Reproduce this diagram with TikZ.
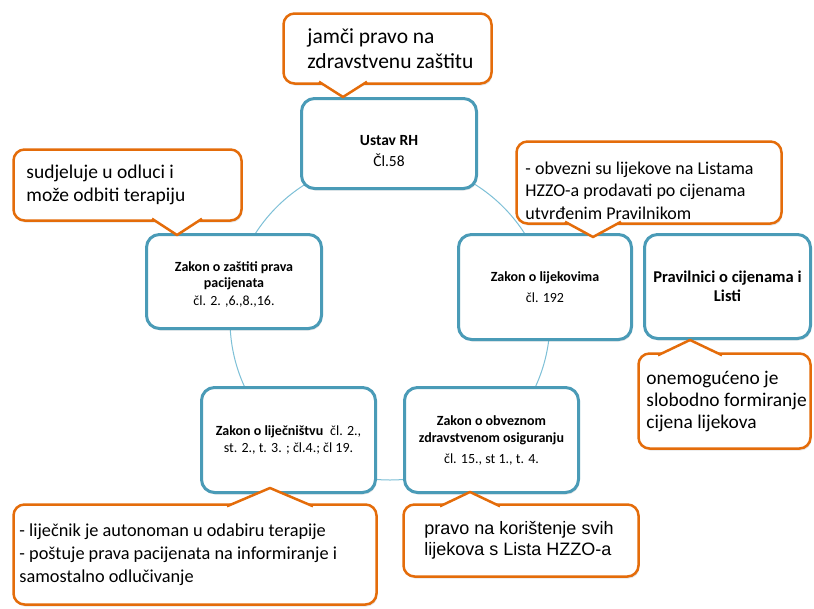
\documentclass[tikz,border=0pt]{standalone}
\usepackage{fontspec}
\setmainfont{Carlito}
\newfontfamily\arialfont{Liberation Sans}
\usetikzlibrary{positioning,calc,shadows}
\definecolor{lawblue}{RGB}{74,155,183}
\definecolor{ringblue}{RGB}{125,192,215}
\definecolor{noteorange}{RGB}{228,108,10}
\tikzset{
  lawbox/.style={draw=lawblue, line width=3pt, rounded corners=13pt, fill=white,
    align=center, inner sep=2pt, font=\fontsize{14}{17}\selectfont,
    drop shadow={opacity=0.2, shadow xshift=1pt, shadow yshift=-2pt}},
  notebox/.style={draw=noteorange, line width=2.5pt, rounded corners=11pt, fill=white,
    drop shadow={opacity=0.2, shadow xshift=1pt, shadow yshift=-2pt}},
  notetext/.style={align=left, inner sep=0pt},
  pointer/.style={draw=noteorange, fill=white, line width=2.5pt, line join=round},
}
\begin{document}
\begin{tikzpicture}[x=1pt,y=-1pt]
\path[use as bounding box, fill=white] (0,0) rectangle (814,608);
% ring behind the laws
\draw[ringblue, line width=1pt] (390,320) circle[radius=160pt];
% laws
\node[lawbox, minimum width=175, minimum height=90, font=\fontsize{15.5}{21}\selectfont] (ustav) at (389,143.5)
  {\rule{0pt}{26pt}\textbf{Ustav RH}\\Čl.58};
\node[lawbox, minimum width=175, minimum height=94] (zastita) at (234,281.5)
  {\rule{0pt}{16pt}\textbf{Zakon o zaštiti prava}\\[-1.5pt]\textbf{pacijenata}\\[1pt]čl. 2. ,6.,8.,16.};
\node[lawbox, minimum width=173, minimum height=105] (lijekovi) at (545,287)
  {\textbf{Zakon o lijekovima}\\[4pt]čl. 192};
\node[lawbox, minimum width=166, minimum height=104, font=\fontsize{16.5}{19}\selectfont] (pravilnici) at (727.5,286.5)
  {\textbf{Pravilnici o cijenama i}\\\textbf{Listi}};
\node[lawbox, minimum width=174, minimum height=105] (lijecnistvo) at (288.5,440)
  {\textbf{Zakon o liječništvu}\enspace čl. 2.,\\st. 2., t. 3. ; čl.4.; čl 19.};
\node[lawbox, minimum width=174, minimum height=105] (osiguranje) at (491.5,440)
  {\textbf{Zakon o obveznom}\\\textbf{zdravstvenom osiguranju}\\[4pt]čl. 15., st 1., t. 4.};
% notes
\node[notebox, minimum width=208, minimum height=70] (c1) at (387.5,48.5) {};
\node[notetext, font=\fontsize{21.5}{25}\selectfont, right=25pt of c1.west] (c1txt)
  {jamči pravo na\\zdravstvenu zaštitu};
\coordinate (t1) at (343,97);
\filldraw[pointer] ($(c1.south -| t1)+(-24,-3)$) -- (t1) -- ($(c1.south -| t1)+(24,-3)$);

\node[notebox, minimum width=228, minimum height=71] (c2) at (127.5,185) {};
\node[notetext, font=\fontsize{19.5}{22.5}\selectfont, right=14pt of c2.west] (c2txt)
  {sudjeluje u odluci i\\može odbiti terapiju};
\coordinate (t2) at (177,235);
\filldraw[pointer] ($(c2.south -| t2)+(-25,-3)$) -- (t2) -- ($(c2.south -| t2)+(25,-3)$);

\node[notebox, minimum width=265, minimum height=82] (c3) at (649,182.5) {};
\node[notetext, font=\fontsize{18}{22.5}\selectfont, right=10pt of c3.west, yshift=-8pt] (c3txt)
  {- obvezni su lijekove na Listama\\HZZO-a prodavati po cijenama\\utvrđenim Pravilnikom};
\coordinate (t3) at (593,237);
\filldraw[pointer] ($(c3.south -| t3)+(-28,-3)$) -- (t3) -- ($(c3.south -| t3)+(28,-3)$);

\node[notebox, minimum width=172, minimum height=95] (c4) at (724.5,401) {};
\node[notetext, font=\fontsize{19.4}{22}\selectfont, right=9pt of c4.west] (c4txt)
  {onemogućeno je\\slobodno formiranje\\cijena lijekova};
\coordinate (t4) at (690,340);
\filldraw[pointer] ($(c4.north -| t4)+(-32,3)$) -- (t4) -- ($(c4.north -| t4)+(32,3)$);

\node[notebox, minimum width=363, minimum height=100] (c5) at (195,554.5) {};
\node[notetext, font=\fontsize{18.3}{23}\selectfont, right=7pt of c5.west] (c5txt)
  {- liječnik je autonoman u odabiru terapije\\- poštuje prava pacijenata na informiranje i\\samostalno odlučivanje};
\coordinate (t5) at (270,488);
\filldraw[pointer] ($(c5.north -| t5)+(-43,3)$) -- (t5) -- ($(c5.north -| t5)+(43,3)$);

\node[notebox, minimum width=235, minimum height=72] (c6) at (521,540.5) {};
\node[notetext, font=\arialfont\fontsize{18}{20.5}\selectfont, right=22pt of c6.west] (c6txt)
  {pravo na korištenje svih\\lijekova s Lista HZZO-a};
\coordinate (t6) at (470,492);
\filldraw[pointer] ($(c6.north -| t6)+(-30,3)$) -- (t6) -- ($(c6.north -| t6)+(30,3)$);
\end{tikzpicture}
\end{document}
